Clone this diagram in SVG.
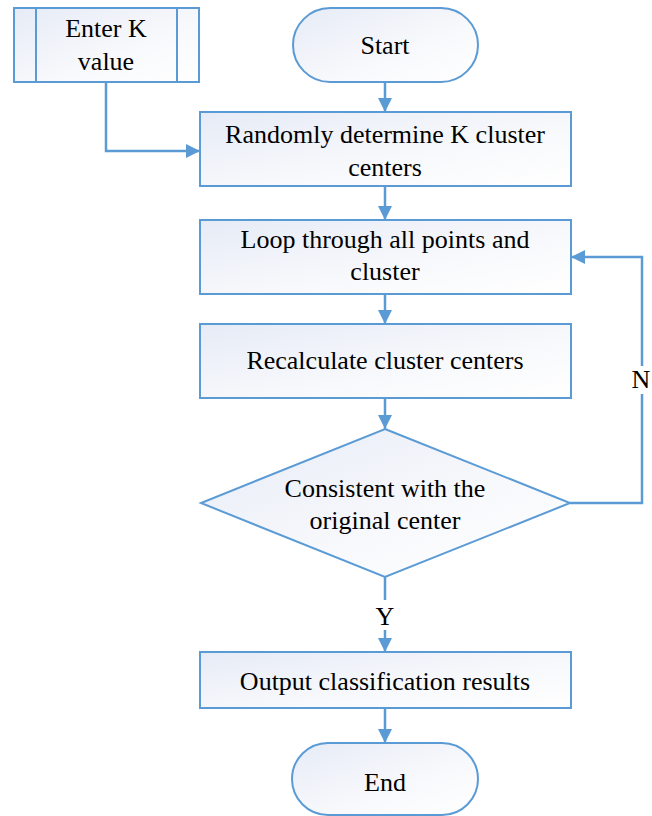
<svg xmlns="http://www.w3.org/2000/svg" width="652" height="816" viewBox="0 0 652 816">
<defs>
<linearGradient id="g" x1="0" y1="0" x2="1" y2="1">
<stop offset="0" stop-color="#e6ebf6"/>
<stop offset="0.6" stop-color="#f8f9fc"/>
<stop offset="1" stop-color="#ffffff"/>
</linearGradient>
<marker id="a" viewBox="0 0 14 14" refX="14" refY="7" markerWidth="14" markerHeight="14" orient="auto" markerUnits="userSpaceOnUse">
<path d="M0,0 L14,7 L0,14 Z" fill="#5b9bd5"/>
</marker>
</defs>
<style>
.s{fill:url(#g);stroke:#5b9bd5;stroke-width:2}
.l{fill:none;stroke:#5b9bd5;stroke-width:2}
.c{fill:none;stroke:#5b9bd5;stroke-width:2.5;marker-end:url(#a)}
.t{font-family:"Liberation Serif","Times New Roman",serif;font-size:26px;fill:#000;text-anchor:middle}
</style>
<g id="enterK">
<rect class="s" x="14" y="8" width="185" height="74"/>
<line class="l" x1="36" y1="8" x2="36" y2="82"/>
<line class="l" x1="177" y1="8" x2="177" y2="82"/>
<text class="t" x="106" y="37">Enter K</text>
<text class="t" x="106" y="70">value</text>
</g>
<g id="start">
<rect class="s" x="293" y="8" width="185" height="74" rx="37"/>
<text class="t" x="385" y="54">Start</text>
</g>
<g id="random">
<rect class="s" x="200" y="112" width="371" height="74"/>
<text class="t" x="385" y="143">Randomly determine K cluster</text>
<text class="t" x="385" y="176">centers</text>
</g>
<g id="loop">
<rect class="s" x="200" y="220" width="371" height="74"/>
<text class="t" x="385" y="248">Loop through all points and</text>
<text class="t" x="385" y="280">cluster</text>
</g>
<g id="recalc">
<rect class="s" x="200" y="324" width="371" height="74"/>
<text class="t" x="385" y="369">Recalculate cluster centers</text>
</g>
<g id="decision">
<polygon class="s" points="385,429 570,503 385,577 201,503"/>
<text class="t" x="385" y="497">Consistent with the</text>
<text class="t" x="385" y="529">original center</text>
</g>
<g id="output">
<rect class="s" x="200" y="652" width="371" height="56"/>
<text class="t" x="385" y="690">Output classification results</text>
</g>
<g id="end">
<rect class="s" x="292" y="743" width="186" height="72" rx="36"/>
<text class="t" x="385" y="791">End</text>
</g>
<g id="connectors">
<path class="c" d="M385,82 V112"/>
<path class="c" d="M106,82 V151 H200"/>
<path class="c" d="M385,186 V220"/>
<path class="c" d="M385,294 V324"/>
<path class="c" d="M385,398 V429"/>
<path class="c" d="M385,577 V652"/>
<path class="c" d="M385,708 V743"/>
<path class="c" d="M570,503 H642 V257 H571"/>
<rect x="630" y="366" width="24" height="28" fill="#fff"/>
<text class="t" x="641" y="388">N</text>
<rect x="373" y="600" width="24" height="30" fill="#fff"/>
<text class="t" x="385" y="625">Y</text>
</g>
</svg>
